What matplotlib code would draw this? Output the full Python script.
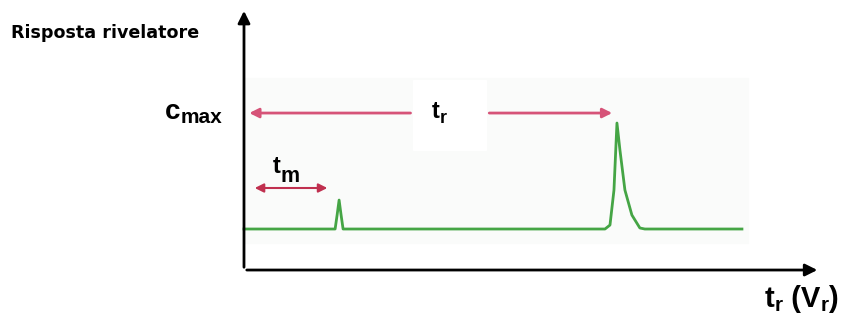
import matplotlib.pyplot as plt
from matplotlib.patches import Rectangle

plt.rcParams['font.family'] = ['Liberation Sans', 'DejaVu Sans']

# detector trace (time units, response units; c_max = 100)
time = [0, 18.3, 18.7, 19.1, 19.5, 19.9, 72.5, 73.5, 74.3, 74.9, 75.5, 76.5, 77.9, 79.5, 80.5, 100]
response = [27.9, 27.9, 37.4, 47.6, 37.4, 27.9, 27.9, 30.6, 54.4, 100, 81.6, 54.4, 37.4, 28.6, 27.9, 27.9]

t_m = 17.3
t_r = 74.5
c_max = 100

fig = plt.figure(figsize=(8.48, 3.2), dpi=100)
ax = fig.add_axes([0, 0, 1, 1])
ax.set_xlim(-49.0, 121.3)
ax.set_ylim(-34.0, 183.7)
ax.axis('off')

# faint screenshot background and white label box
ax.add_patch(Rectangle((0, 18.4), 101.2, 112.2, color='#fafbfa', zorder=0))
ax.add_patch(Rectangle((34.0, 81.6), 14.7, 47.6, color='white', zorder=1))

ax.plot(time, response, color='#45a545', lw=2, zorder=3)

red = '#d65378'
ax.annotate('', xy=(0.5, c_max + 6.8), xytext=(34.0, c_max + 6.8),
            arrowprops=dict(arrowstyle='-|>', color=red, lw=2, mutation_scale=14))
ax.annotate('', xy=(t_r, c_max + 6.8), xytext=(48.7, c_max + 6.8),
            arrowprops=dict(arrowstyle='-|>', color=red, lw=2, mutation_scale=14))
ax.annotate('', xy=(1.6, 55.8), xytext=(t_m, 55.8),
            arrowprops=dict(arrowstyle='<|-|>', color='#c0304f', lw=1.5, mutation_scale=13))

# axes with arrows
ax.annotate('', xy=(0, 178.2), xytext=(0, 0),
            arrowprops=dict(arrowstyle='-|>', color='black', lw=2, mutation_scale=18))
ax.annotate('', xy=(115.7, 0), xytext=(0, 0),
            arrowprops=dict(arrowstyle='-|>', color='black', lw=2, mutation_scale=18))

W, H = 848, 320
renderer = fig.canvas.get_renderer()


def chain(x, parts):
    # parts: (text, fontsize, baseline in pixels from top)
    for s, size, base in parts:
        t = fig.text(x / W, 1 - base / H, s, fontsize=size, fontweight='bold', va='baseline')
        x = t.get_window_extent(renderer).x1


fig.text(11 / W, 1 - 37.5 / H, 'Risposta rivelatore', fontsize=12.6, fontweight='bold',
         family='DejaVu Sans', va='baseline')

chain(165, [('c', 20, 119), ('max', 15, 123)])
chain(432, [('t', 17, 118), ('r', 13, 123)])
chain(273, [('t', 17, 173), ('m', 15.5, 182)])
chain(765, [('t', 21, 307), ('r', 15, 311), (' (V', 21, 307), ('r', 15, 311), (')', 21, 307)])

fig.savefig('out.png', dpi=100)
